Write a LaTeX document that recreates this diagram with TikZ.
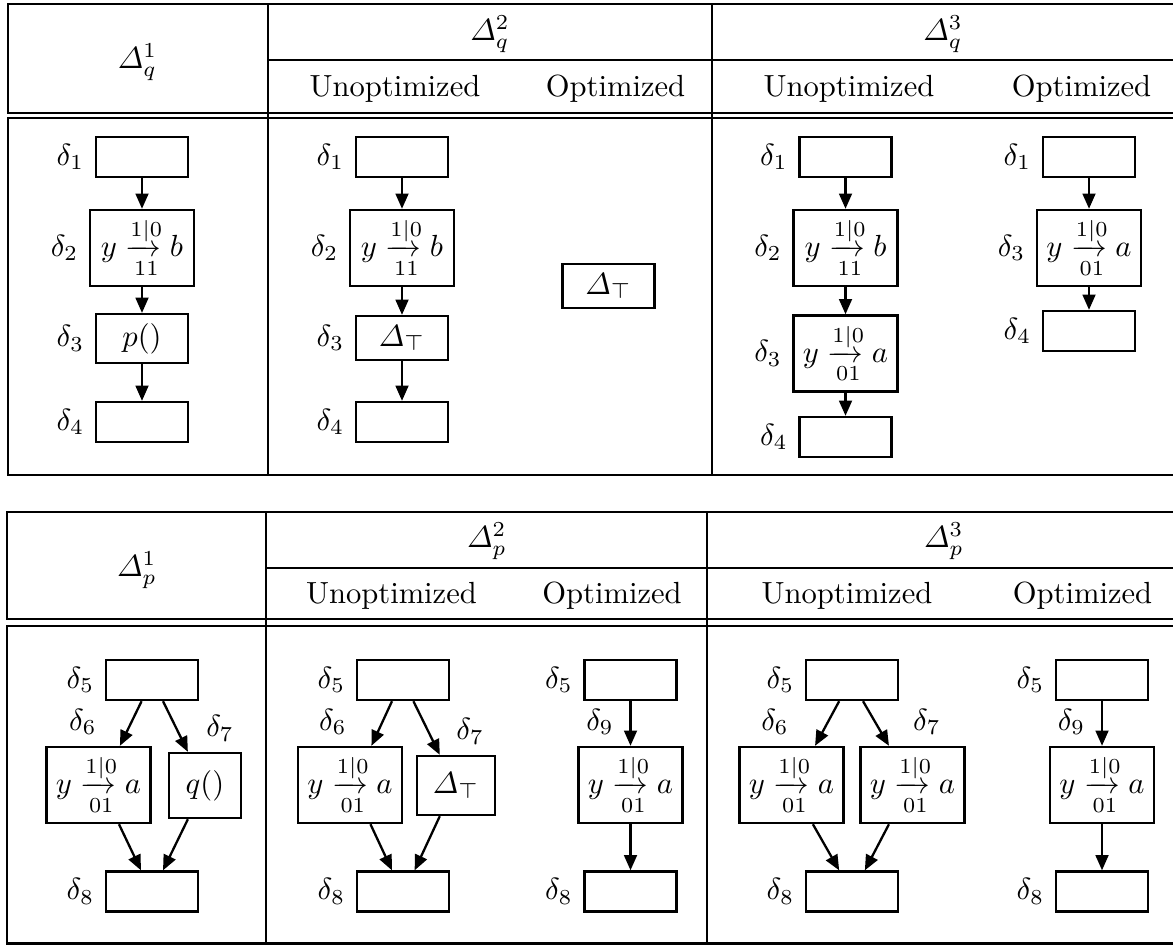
\documentclass[tikz,border=0pt]{standalone}
\usepackage{amsmath}
\usetikzlibrary{arrows.meta}

\tikzset{
  cfgbox/.style={draw, line width=0.75pt, inner sep=1pt, minimum width=30.1pt, minimum height=13.1pt},
  transbox/.style={cfgbox, minimum width=34pt, minimum height=24.9pt},
  flow/.style={line width=0.75pt, -{Triangle[length=5pt,width=4.2pt]}},
  rule/.style={line width=0.9pt},
}
\newcommand{\trans}[2]{$y \xrightarrow[\mkern-2mu #1\mkern-9mu]{\mkern-2mu 1|0\mkern-9mu} #2$}

\begin{document}
\begin{tikzpicture}[x=0.327pt, y=-0.327pt]
  \useasboundingbox (0,0) rectangle (1173,945);

  % upper table: Delta_q
  \draw[rule] (1173,4) -- (8,4) -- (8,113) -- (1173,113);
  \draw[rule] (1173,118) -- (8,118) -- (8,475) -- (1173,475);
  \draw[rule] (268,60) -- (1173,60);
  \draw[rule] (268,4) -- (268,475);
  \draw[rule] (712,4) -- (712,475);

  \node (hq1) at (137.5,62) {$\varDelta_q^1$};
  \node (hq2) at (490,34) {$\varDelta_q^2$};
  \node (hq3) at (943,34) {$\varDelta_q^3$};
  \node (uq2) at (395,89) {Unoptimized};
  \node (oq2) at (615.5,89) {Optimized};
  \node (uq3) at (849,89) {Unoptimized};
  \node (oq3) at (1081.5,89) {Optimized};

  % Delta_q^1
  \node[cfgbox, label=left:$\delta_1$] (qa1) at (142,157) {};
  \node[transbox, label=left:$\delta_2$] (qa2) at (142,248) {\trans{11}{b}};
  \node[cfgbox, minimum height=16pt, label=left:$\delta_3$] (qa3) at (142,338.5) {$p()$};
  \node[cfgbox, label=left:$\delta_4$] (qa4) at (142,422) {};
  \draw[flow] (qa1) -- (qa2);
  \draw[flow] (qa2) -- (qa3);
  \draw[flow] (qa3) -- (qa4);

  % Delta_q^2, unoptimized and optimized
  \node[cfgbox, label=left:$\delta_1$] (qb1) at (402,157) {};
  \node[transbox, label=left:$\delta_2$] (qb2) at (402,248) {\trans{11}{b}};
  \node[cfgbox, minimum height=14.4pt, label=left:$\delta_3$] (qb3) at (402,338) {$\varDelta_\top$};
  \node[cfgbox, label=left:$\delta_4$] (qb4) at (402,422) {};
  \draw[flow] (qb1) -- (qb2);
  \draw[flow] (qb2) -- (qb3);
  \draw[flow] (qb3) -- (qb4);
  \node[cfgbox, minimum height=14.4pt] (qbt) at (608.5,286) {$\varDelta_\top$};

  % Delta_q^3, unoptimized
  \node[cfgbox, label=left:$\delta_1$] (qc1) at (845.5,157) {};
  \node[transbox, label=left:$\delta_2$] (qc2) at (845.5,248) {\trans{11}{b}};
  \node[transbox, label=left:$\delta_3$] (qc3) at (845.5,353.5) {\trans{01}{a}};
  \node[cfgbox, label=left:$\delta_4$] (qc4) at (845.5,437) {};
  \draw[flow] (qc1) -- (qc2);
  \draw[flow] (qc2) -- (qc3);
  \draw[flow] (qc3) -- (qc4);

  % Delta_q^3, optimized
  \node[cfgbox, label=left:$\delta_1$] (qd1) at (1089,157) {};
  \node[transbox, label=left:$\delta_3$] (qd3) at (1089,248) {\trans{01}{a}};
  \node[cfgbox, label=left:$\delta_4$] (qd4) at (1089,331) {};
  \draw[flow] (qd1) -- (qd3);
  \draw[flow] (qd3) -- (qd4);

  % lower table: Delta_p
  \draw[rule] (1173,512) -- (7,512) -- (7,619) -- (1173,619);
  \draw[rule] (1173,626) -- (7,626) -- (7,943.5) -- (1173,943.5);
  \draw[rule] (266,568) -- (1173,568);
  \draw[rule] (266,512) -- (266,943.5);
  \draw[rule] (707,512) -- (707,943.5);

  \node (hp1) at (137,570) {$\varDelta_p^1$};
  \node (hp2) at (487,541) {$\varDelta_p^2$};
  \node (hp3) at (944,541) {$\varDelta_p^3$};
  \node (up2) at (391.5,596) {Unoptimized};
  \node (op2) at (612,596) {Optimized};
  \node (up3) at (847,596) {Unoptimized};
  \node (op3) at (1082.5,596) {Optimized};

  % Delta_p^1
  \node[cfgbox, label=left:$\delta_5$] (pa5) at (152,680) {};
  \node[transbox, label={[xshift=-5.1pt]above:$\delta_6$}] (pa6) at (98.5,785) {\trans{01}{a}};
  \node[cfgbox, minimum width=23.5pt, minimum height=21.3pt, label={[xshift=4.9pt]above:$\delta_7$}] (pa7) at (205,785.5) {$q()$};
  \node[cfgbox, label=left:$\delta_8$] (pa8) at (152,891.5) {};
  \draw[flow] ([xshift=-3.4pt]pa5.south) -- ([xshift=7pt]pa6.north);
  \draw[flow] ([xshift=3.6pt]pa5.south) -- ([xshift=-5.6pt]pa7.north);
  \draw[flow] ([xshift=6.7pt]pa6.south) -- ([xshift=-3.6pt]pa8.north);
  \draw[flow] ([xshift=-5.6pt]pa7.south) -- ([xshift=3.6pt]pa8.north);

  % Delta_p^2, unoptimized
  \node[cfgbox, label=left:$\delta_5$] (pb5) at (403,680) {};
  \node[transbox, label={[xshift=-5.6pt]above:$\delta_6$}] (pb6) at (350,785) {\trans{01}{a}};
  \node[cfgbox, minimum width=25.5pt, minimum height=19.3pt, label={[xshift=4.6pt]above:$\delta_7$}] (pb7) at (456,785.5) {$\varDelta_\top$};
  \node[cfgbox, label=left:$\delta_8$] (pb8) at (403,891.5) {};
  \draw[flow] ([xshift=-3.6pt]pb5.south) -- ([xshift=7pt]pb6.north);
  \draw[flow] ([xshift=3.4pt]pb5.south) -- ([xshift=-5.3pt]pb7.north);
  \draw[flow] ([xshift=6.7pt]pb6.south) -- ([xshift=-3.6pt]pb8.north);
  \draw[flow] ([xshift=-5.3pt]pb7.south) -- ([xshift=3.8pt]pb8.north);

  % Delta_p^2, optimized
  \node[cfgbox, label=left:$\delta_5$] (pc5) at (630.5,680) {};
  \node[transbox, label={[xshift=-10pt]above:$\delta_9$}] (pc9) at (630.5,785) {\trans{01}{a}};
  \node[cfgbox, label=left:$\delta_8$] (pc8) at (630.5,891.5) {};
  \draw[flow] (pc5) -- (pc9);
  \draw[flow] (pc9) -- (pc8);

  % Delta_p^3, unoptimized
  \node[cfgbox, label=left:$\delta_5$] (pd5) at (852,680) {};
  \node[transbox, label={[xshift=-5.4pt]above:$\delta_6$}] (pd6) at (791.5,785) {\trans{01}{a}};
  \node[transbox, label={[xshift=4.7pt]above:$\delta_7$}] (pd7) at (912.5,785) {\trans{01}{a}};
  \node[cfgbox, label=left:$\delta_8$] (pd8) at (852,891.5) {};
  \draw[flow] ([xshift=-4.2pt]pd5.south) -- ([xshift=7.7pt]pd6.north);
  \draw[flow] ([xshift=3.6pt]pd5.south) -- ([xshift=-7.7pt]pd7.north);
  \draw[flow] ([xshift=7pt]pd6.south) -- ([xshift=-4.2pt]pd8.north);
  \draw[flow] ([xshift=-7.7pt]pd7.south) -- ([xshift=4.2pt]pd8.north);

  % Delta_p^3, optimized
  \node[cfgbox, label=left:$\delta_5$] (pe5) at (1102,680) {};
  \node[transbox, label={[xshift=-10pt]above:$\delta_9$}] (pe9) at (1102,785) {\trans{01}{a}};
  \node[cfgbox, label=left:$\delta_8$] (pe8) at (1102,891.5) {};
  \draw[flow] (pe5) -- (pe9);
  \draw[flow] (pe9) -- (pe8);
\end{tikzpicture}
\end{document}
